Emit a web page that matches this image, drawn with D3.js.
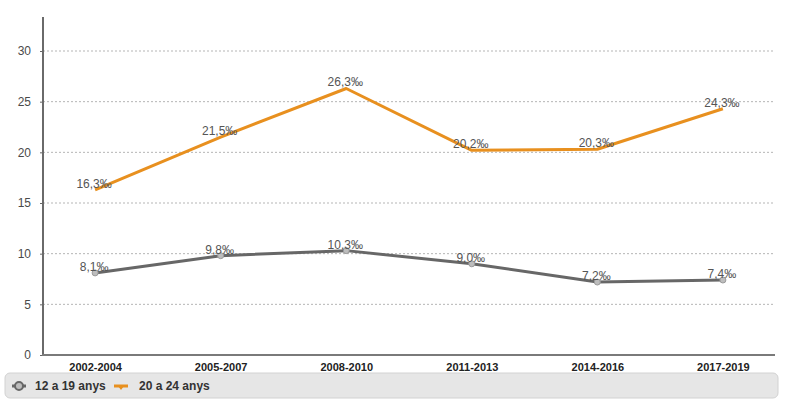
<!DOCTYPE html>
<html><head><meta charset="utf-8">
<script src="https://cdn.jsdelivr.net/npm/d3@7"></script>
<style>body{margin:0;background:#fff;}svg{display:block;font-family:"Liberation Sans",Arial,sans-serif;}</style>
</head><body>
<svg id="c" width="786" height="411"></svg>
<script>
const categories = ["2002-2004","2005-2007","2008-2010","2011-2013","2014-2016","2017-2019"];
const seriesNames = ["12 a 19 anys","20 a 24 anys"];
const values12_19 = [8.1, 9.8, 10.3, 9.0, 7.2, 7.4];
const values20_24 = [16.3, 21.5, 26.3, 20.2, 20.3, 24.3];
const yTicks = [0,5,10,15,20,25,30];
const colors = ["#676767", "#e8901f"];

(function(){
const svg = d3.select("#c");
const mLeft = 43, mRight = 775, mTop = 17, mBottom = 355;
const x = d3.scalePoint().domain(categories).range([mLeft, mRight]).padding(0.415);
const y = d3.scaleLinear().domain([0, 30]).range([mBottom, 51]);

// gridlines
svg.append("g").selectAll("line").data(yTicks.filter(d => d > 0)).join("line")
  .attr("x1", mLeft).attr("x2", 773).attr("y1", d => y(d)).attr("y2", d => y(d))
  .attr("stroke", "#b5b5b5").attr("stroke-width", 1).attr("stroke-dasharray", "2,2");

// y axis
const ya = svg.append("g").attr("transform", `translate(${mLeft},0)`)
  .call(d3.axisLeft(y).tickValues(yTicks).tickSize(3).tickPadding(9));
ya.select(".domain").remove();
ya.selectAll(".tick line").attr("stroke", "#666");
ya.selectAll("text").attr("fill", "#4a4a4a").attr("font-size", 12);
svg.append("line").attr("x1", mLeft).attr("x2", mLeft).attr("y1", mTop).attr("y2", mBottom)
  .attr("stroke", "#6a6a6a").attr("stroke-width", 2);

// x axis
const xa = svg.append("g").attr("transform", `translate(0,${mBottom})`)
  .call(d3.axisBottom(x).tickSize(0).tickPadding(8));
xa.select(".domain").remove();
xa.selectAll("text").attr("fill", "#222").attr("font-size", 11).attr("font-weight", "bold");
svg.append("line").attr("x1", mLeft - 1).attr("x2", mRight).attr("y1", mBottom).attr("y2", mBottom)
  .attr("stroke", "#7a7a7a").attr("stroke-width", 2);

const series = [values12_19, values20_24];
const line = d3.line().x((d, i) => x(categories[i])).y(d => y(d));

series.forEach((vals, si) => {
  svg.append("path").datum(vals).attr("d", line)
    .attr("fill", "none").attr("stroke", colors[si]).attr("stroke-width", 3)
    .attr("stroke-linejoin", "round");
  if (si === 0) {
    svg.append("g").selectAll("circle").data(vals).join("circle")
      .attr("cx", (d, i) => x(categories[i])).attr("cy", d => y(d)).attr("r", 3)
      .attr("fill", "#bdbdbd").attr("stroke", "#9a9a9a").attr("stroke-width", 1);
  }
  svg.append("g").selectAll("text").data(vals).join("text")
    .attr("x", (d, i) => x(categories[i]) - 1).attr("y", d => y(d) - 2)
    .attr("text-anchor", "middle").attr("font-size", 12).attr("fill", "#555")
    .text(d => d.toFixed(1).replace(".", ",") + "‰");
});

// legend
const lg = svg.append("g");
lg.append("rect").attr("x", 5).attr("y", 373).attr("width", 773).attr("height", 25).attr("rx", 5)
  .attr("fill", "#e6e6e6").attr("stroke", "#d2d2d2").attr("stroke-width", 1);
lg.append("line").attr("x1", 12).attr("x2", 26).attr("y1", 386).attr("y2", 386)
  .attr("stroke", colors[0]).attr("stroke-width", 3);
lg.append("circle").attr("cx", 19).attr("cy", 386).attr("r", 4)
  .attr("fill", "#bdbdbd").attr("stroke", colors[0]).attr("stroke-width", 2);
lg.append("text").attr("x", 35).attr("y", 390).attr("font-size", 12).attr("font-weight", "bold")
  .attr("fill", "#333").text(seriesNames[0]);
lg.append("line").attr("x1", 114).attr("x2", 128).attr("y1", 386).attr("y2", 386)
  .attr("stroke", colors[1]).attr("stroke-width", 3);
lg.append("path").attr("d", "M118,386 L124,386 L121,390 Z").attr("fill", colors[1]);
lg.append("text").attr("x", 139).attr("y", 390).attr("font-size", 12).attr("font-weight", "bold")
  .attr("fill", "#333").text(seriesNames[1]);
})();
</script>
</body></html>
